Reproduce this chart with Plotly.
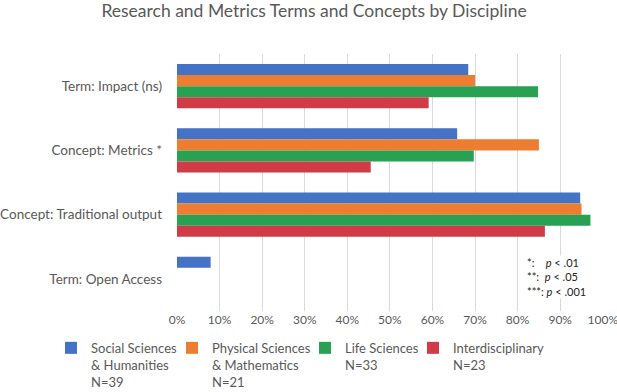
import plotly.graph_objects as go

categories = ["Term: Impact (ns)", "Concept: Metrics *", "Concept: Traditional output", "Term: Open Access"]
series_names = [
    "Social Sciences<br>& Humanities<br>N=39",
    "Physical Sciences<br>& Mathematics<br>N=21",
    "Life Sciences<br>N=33",
    "Interdisciplinary<br>N=23",
]
social = [0.684, 0.658, 0.947, 0.079]
physical = [0.700, 0.850, 0.950, None]
life = [0.848, 0.697, 0.971, None]
inter = [0.591, 0.455, 0.864, None]
colors = ["#4472C4", "#ED7D31", "#28A152", "#D13B47"]
x_ticks = [0, 0.1, 0.2, 0.3, 0.4, 0.5, 0.6, 0.7, 0.8, 0.9, 1.0]
x_labels = ["0%", "10%", "20%", "30%", "40%", "50%", "60%", "70%", "80%", "90%", "100%"]
legend_x = [0.0827, 0.2788, 0.4943, 0.6694]  # left edge of each legend entry (fraction of figure width)

FONT = "Lato, 'Open Sans', sans-serif"
GREY = "#595959"

fig = go.Figure()
legend_ids = ["legend", "legend2", "legend3", "legend4"]
for name, vals, c, lid in zip(series_names, [social, physical, life, inter], colors, legend_ids):
    fig.add_trace(go.Bar(
        y=categories, x=vals, name=name, orientation="h", legend=lid,
        marker=dict(color=c, line=dict(width=0)),
    ))

legend_style = dict(orientation="h", xref="container", xanchor="left",
                    yref="container", y=0.1508, yanchor="top",
                    font=dict(size=13, color=GREY, family=FONT), itemwidth=30,
                    valign="top", bgcolor="rgba(0,0,0,0)")

fig.update_layout(
    width=617, height=392,
    margin=dict(l=177, r=14, t=54, b=81, autoexpand=False),
    paper_bgcolor="white", plot_bgcolor="white",
    barmode="group", bargap=0.31, bargroupgap=0,
    font=dict(family=FONT, color=GREY, size=13.5),
    title=dict(text="Research and Metrics Terms and Concepts by Discipline",
               x=0.509, xanchor="center", y=0.988, yanchor="top",
               font=dict(size=17.5, color=GREY, family=FONT)),
    xaxis=dict(range=[0, 1.0005], tickvals=x_ticks, ticktext=x_labels,
               showgrid=True, gridcolor="#D9D9D9", gridwidth=1,
               zeroline=False, showline=False, ticks="", automargin=False,
               ticklabeloverflow="allow",
               tickfont=dict(size=12, color=GREY), fixedrange=True),
    yaxis=dict(autorange="reversed", showgrid=False, zeroline=False,
               showline=False, ticks="", ticklabelstandoff=14, automargin=False,
               tickfont=dict(size=13.5, color=GREY)),
    showlegend=True,
)
layout_legends = {lid: dict(legend_style, x=lx) for lid, lx in zip(legend_ids, legend_x)}
fig.update_layout(**layout_legends)

fig.add_annotation(
    xref="paper", yref="paper", x=0.819, y=0.218, xanchor="left", yanchor="top",
    align="left", showarrow=False, bgcolor="white", borderpad=0,
    text="*:    <i>p</i> < .01<br>**:  <i>p</i> < .05<br>***: <i>p</i> < .001",
    font=dict(size=11, color="#222222", family=FONT),
)

fig.write_html(
    "out.html",
    config={"displayModeBar": False},
    post_script="document.body.style.margin='0';document.body.style.overflow='hidden';",
)
